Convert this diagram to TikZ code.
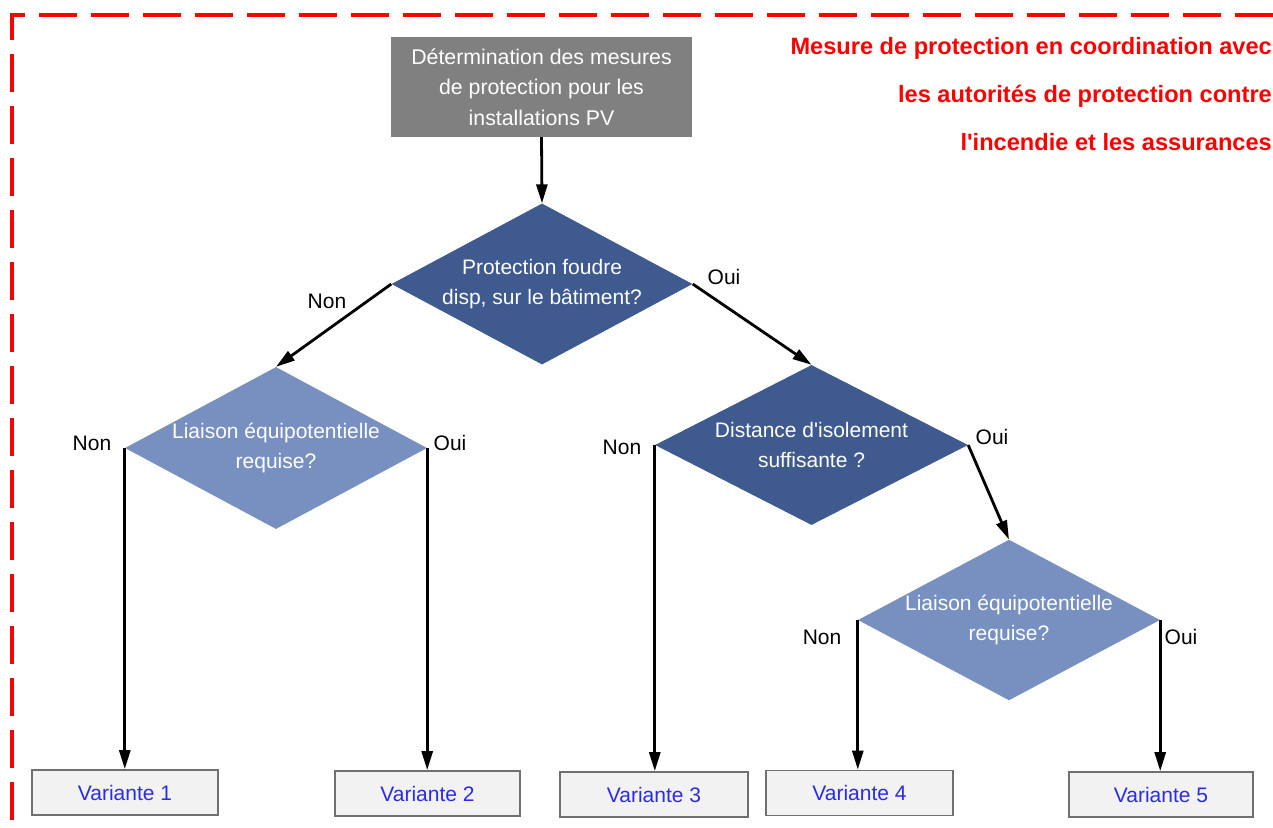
\documentclass[tikz,border=0pt]{standalone}
\usepackage{fontspec}
\setmainfont{Liberation Sans}
\usetikzlibrary{shapes.geometric,arrows.meta}
\definecolor{boxgray}{HTML}{808080}
\definecolor{darkblue}{HTML}{3F5A8E}
\definecolor{lightblue}{HTML}{7890C0}
\definecolor{varfill}{HTML}{F2F2F2}
\definecolor{varline}{HTML}{707070}
\definecolor{vartext}{HTML}{2B2BE8}
\definecolor{redc}{HTML}{FF0000}
\begin{document}
\begin{tikzpicture}[x=1pt,y=-1pt,
 startbox/.style={rectangle,fill=boxgray,text=white,minimum width=301pt,minimum height=100pt,inner sep=0pt,align=center,font=\fontsize{21.3}{30.5}\selectfont},
 decision/.style={diamond,aspect=1.875,inner sep=0pt,text=white,align=center,font=\fontsize{21}{30}\selectfont},
 darkdec/.style={decision,fill=darkblue},
 lightdec/.style={decision,fill=lightblue},
 variant/.style={rectangle,fill=varfill,draw=varline,line width=1.8pt,text=vartext,minimum height=45pt,inner sep=0pt,font=\fontsize{21}{24}\selectfont},
 lab/.style={font=\fontsize{21}{24}\selectfont,inner sep=0pt},
 arr/.style={line width=2.8pt,-{Triangle[length=19pt,width=11pt]}},
 note/.style={text=redc,font=\bfseries\fontsize{23.6}{26}\selectfont,anchor=east,inner sep=0pt},
 frame/.style={draw=redc,line width=4pt,dash pattern=on 38pt off 14pt}
]
\useasboundingbox (0,0) rectangle (1273,827);
% red dashed frame
\draw[frame,dash phase=23pt] (10,15) -- (1273,15);
\draw[frame,dash phase=11pt] (12,13) -- (12,827);
% notes
\node[note] (t1) at (1272,48) {Mesure de protection en coordination avec};
\node[note] (t2) at (1272,96) {les autorités de protection contre};
\node[note] (t3) at (1272,142) {l\textquotesingle incendie et les assurances};
% nodes
\node[startbox] (start) at (541.5,87) {Détermination des mesures\\de protection pour les\\installations PV};
\node[darkdec,minimum width=301pt,minimum height=161pt] (d1) at (542,284) {Protection foudre\\disp, sur le bâtiment?};
\node[lightdec,minimum width=302pt,minimum height=162pt] (d2) at (276,448) {Liaison équipotentielle\\requise?};
\node[darkdec,minimum width=313pt,minimum height=160pt] (d3) at (811.5,445) {Distance d\textquotesingle isolement\\suffisante ?};
\node[lightdec,minimum width=302pt,minimum height=158pt] (d4) at (1009,620) {Liaison équipotentielle\\requise?};
\node[variant,minimum width=186pt] (v1) at (125,792.5) {Variante 1};
\node[variant,minimum width=185pt] (v2) at (427.5,793.5) {Variante 2};
\node[variant,minimum width=188pt] (v3) at (654,794.5) {Variante 3};
\node[variant,minimum width=187pt] (v4) at (859.5,793) {Variante 4};
\node[variant,minimum width=184pt] (v5) at (1161,794.5) {Variante 5};
% connectors
\draw[arr] (start.south) -- (d1.north);
\draw[arr] (d1.west) -- (d2.north);
\draw[arr] (d1.east) -- (d3.north);
\draw[arr] (d2.west) -- (d2.west |- v1.north);
\draw[arr] (d2.east) -- (d2.east |- v2.north);
\draw[arr] (d3.west) -- (d3.west |- v3.north);
\draw[arr] (d3.east) -- (d4.north);
\draw[arr] (d4.west) -- (d4.west |- v4.north);
\draw[arr] (d4.east) -- (d4.east |- v5.north);
% labels
\node[lab] (l1) at (327,301) {Non};
\node[lab] (l2) at (724,277) {Oui};
\node[lab] (l3) at (92,443) {Non};
\node[lab] (l4) at (450,443) {Oui};
\node[lab] (l5) at (622,447) {Non};
\node[lab] (l6) at (992,437) {Oui};
\node[lab] (l7) at (822,637) {Non};
\node[lab] (l8) at (1181,637) {Oui};
\end{tikzpicture}
\end{document}
